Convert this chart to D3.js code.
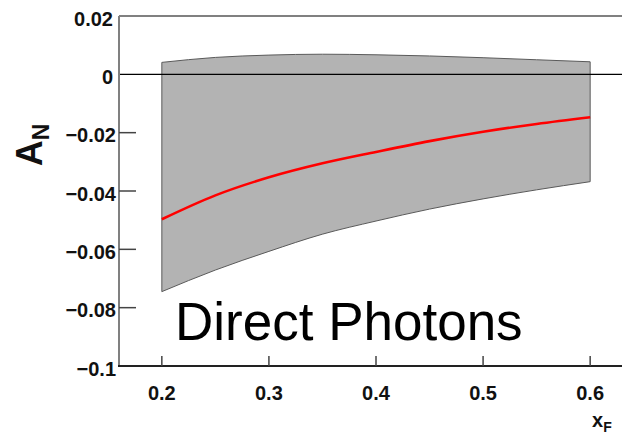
<!DOCTYPE html>
<head>
  <meta charset="utf-8">
  <script src="https://d3js.org/d3.v7.min.js"></script>
  <style>
    body { margin: 0; background: #fff; }
    text { font-family: "Liberation Sans", Arial, sans-serif; }
  </style>
</head>
<body>
  <script>
    var xF = [0.20, 0.25, 0.30, 0.35, 0.40, 0.45, 0.50, 0.55, 0.60];
    // central asymmetry (red line)
    var anCentral = [-0.0497, -0.0415, -0.0353, -0.0305, -0.0266, -0.0229, -0.0197, -0.0170, -0.0147];
    // uncertainty band edges
    var bandUpper = [0.0041, 0.0058, 0.0066, 0.0069, 0.0067, 0.0063, 0.0057, 0.0050, 0.0043];
    var bandLower = [-0.0745, -0.0671, -0.0607, -0.0548, -0.0503, -0.0462, -0.0427, -0.0396, -0.0368];

    var xTicks = [0.2, 0.3, 0.4, 0.5, 0.6];
    var yTicks = [0.02, 0, -0.02, -0.04, -0.06, -0.08, -0.1];
    var yTickText = ['0.02', '0', '\u22120.02', '\u22120.04', '\u22120.06', '\u22120.08', '\u22120.1'];

    var outerWidth = 622,
      outerHeight = 437;

    // frame edges in pixels (window.top is taken, so prefix them)
    var frameLeft = 119, frameRight = 633, frameTop = 16, frameBottom = 366;

    var xScale = d3.scaleLinear().domain([0.16, 0.64]).range([frameLeft, frameRight]);
    var yScale = d3.scaleLinear().domain([-0.1, 0.02]).range([frameBottom, frameTop]);

    var svg = d3.select('body').append('svg')
      .attr('width', outerWidth)
      .attr('height', outerHeight);

    var rows = xF.map(function(x, i) {
      return { x: x, c: anCentral[i], hi: bandUpper[i], lo: bandLower[i] };
    });

    // grey band
    var area = d3.area()
      .x(function(d) { return xScale(d.x); })
      .y0(function(d) { return yScale(d.lo); })
      .y1(function(d) { return yScale(d.hi); })
      .curve(d3.curveMonotoneX);

    svg.append('path')
      .datum(rows)
      .attr('d', area)
      .attr('fill', '#b3b3b3')
      .attr('stroke', '#5a5a5a')
      .attr('stroke-width', 1);

    // zero line
    svg.append('line')
      .attr('x1', frameLeft).attr('x2', outerWidth)
      .attr('y1', yScale(0)).attr('y2', yScale(0))
      .attr('stroke', '#000').attr('stroke-width', 1.2);

    // red curve
    var line = d3.line()
      .x(function(d) { return xScale(d.x); })
      .y(function(d) { return yScale(d.c); })
      .curve(d3.curveMonotoneX);

    svg.append('path')
      .datum(rows)
      .attr('d', line)
      .attr('fill', 'none')
      .attr('stroke', '#ff0000')
      .attr('stroke-width', 2.6);

    // frame: top and left are grey, bottom darker
    svg.append('line')
      .attr('x1', frameLeft).attr('x2', outerWidth)
      .attr('y1', frameTop).attr('y2', frameTop)
      .attr('stroke', '#808080').attr('stroke-width', 2);
    svg.append('line')
      .attr('x1', frameLeft).attr('x2', frameLeft)
      .attr('y1', frameTop).attr('y2', frameBottom)
      .attr('stroke', '#808080').attr('stroke-width', 2);

    // y ticks (inside the frame)
    svg.selectAll('.ytick')
      .data(yTicks.filter(function(v) { return v !== 0 && v !== 0.02 && v !== -0.1; }))
      .enter().append('line')
      .attr('class', 'ytick')
      .attr('x1', frameLeft).attr('x2', frameLeft + 17)
      .attr('y1', function(d) { return yScale(d); })
      .attr('y2', function(d) { return yScale(d); })
      .attr('stroke', '#444').attr('stroke-width', 1.5);

    svg.selectAll('.ylabel')
      .data(yTicks)
      .enter().append('text')
      .attr('class', 'ylabel')
      .attr('x', function(d) { return d < 0 ? 116 : 113; })
      .attr('y', function(d) { return yScale(d) + 9.5; })
      .attr('text-anchor', 'end')
      .attr('font-size', 20)
      .attr('font-weight', 'bold')
      .attr('fill', '#111')
      .text(function(d, i) { return yTickText[i]; });

    // x axis
    svg.append('line')
      .attr('x1', frameLeft - 1).attr('x2', outerWidth)
      .attr('y1', frameBottom).attr('y2', frameBottom)
      .attr('stroke', '#222').attr('stroke-width', 1.8);

    svg.selectAll('.xtick')
      .data(xTicks)
      .enter().append('line')
      .attr('class', 'xtick')
      .attr('x1', function(d) { return xScale(d); })
      .attr('x2', function(d) { return xScale(d); })
      .attr('y1', frameBottom).attr('y2', frameBottom - 10)
      .attr('stroke', '#444').attr('stroke-width', 1.5);

    svg.selectAll('.xlabel')
      .data(xTicks)
      .enter().append('text')
      .attr('class', 'xlabel')
      .attr('x', function(d) { return xScale(d); })
      .attr('y', 400)
      .attr('text-anchor', 'middle')
      .attr('font-size', 20)
      .attr('font-weight', 'bold')
      .attr('fill', '#111')
      .text(function(d) { return d3.format('.1f')(d); });

    // axis titles
    var yTitle = svg.append('text')
      .attr('transform', 'translate(42,145) rotate(-90)')
      .attr('text-anchor', 'middle')
      .attr('font-weight', 'bold')
      .attr('fill', '#111');
    yTitle.append('tspan').attr('font-size', 36).text('A');
    yTitle.append('tspan').attr('font-size', 23).attr('dy', 7).text('N');

    var xTitle = svg.append('text')
      .attr('x', 592)
      .attr('y', 427)
      .attr('font-weight', 'bold')
      .attr('fill', '#111');
    xTitle.append('tspan').attr('font-size', 20).text('x');
    xTitle.append('tspan').attr('font-size', 14).attr('dy', 5).text('F');

    svg.append('text')
      .attr('x', 175)
      .attr('y', 340)
      .attr('font-size', 53)
      .attr('fill', '#000')
      .text('Direct Photons');
  </script>
</body>
